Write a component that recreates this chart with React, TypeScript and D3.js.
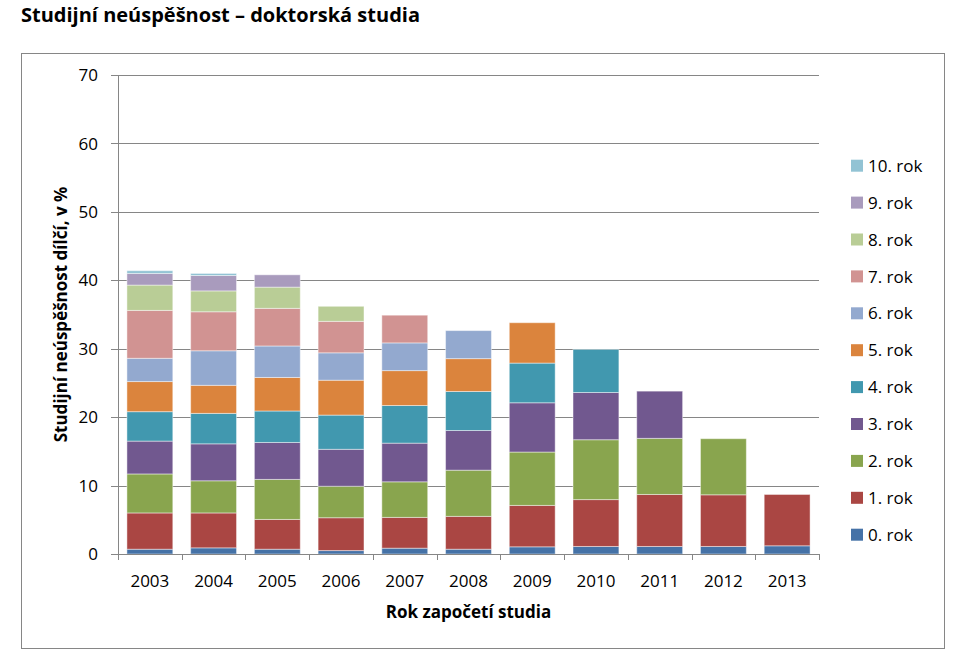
import React from "react";
import * as d3 from "d3";

const years = ["2003", "2004", "2005", "2006", "2007", "2008", "2009", "2010", "2011", "2012", "2013"];
const seriesNames = ["0. rok", "1. rok", "2. rok", "3. rok", "4. rok", "5. rok", "6. rok", "7. rok", "8. rok", "9. rok", "10. rok"];
const colors = ["#4572A7", "#AA4643", "#89A54E", "#71588F", "#4198AF", "#DB843D", "#93A9CF", "#D19392", "#B9CD96", "#A99BBD", "#92C3D4"];

const rok0 = [0.7, 0.9, 0.7, 0.5, 0.85, 0.7, 1.05, 1.1, 1.1, 1.1, 1.2];
const rok1 = [5.3, 5.1, 4.35, 4.8, 4.5, 4.8, 6.05, 6.85, 7.6, 7.55, 7.5];
const rok2 = [5.7, 4.7, 5.85, 4.6, 5.2, 6.75, 7.8, 8.75, 8.2, 8.2, 0];
const rok3 = [4.8, 5.4, 5.4, 5.4, 5.65, 5.8, 7.2, 6.9, 6.9, 0, 0];
const rok4 = [4.3, 4.45, 4.6, 5.0, 5.5, 5.7, 5.8, 6.3, 0, 0, 0];
const rok5 = [4.4, 4.1, 4.9, 5.1, 5.1, 4.8, 5.9, 0, 0, 0, 0];
const rok6 = [3.4, 5.05, 4.6, 4.0, 4.05, 4.1, 0, 0, 0, 0, 0];
const rok7 = [7.0, 5.7, 5.5, 4.6, 4.05, 0, 0, 0, 0, 0, 0];
const rok8 = [3.7, 3.05, 3.1, 2.2, 0, 0, 0, 0, 0, 0, 0];
const rok9 = [1.7, 2.25, 1.8, 0, 0, 0, 0, 0, 0, 0, 0];
const rok10 = [0.4, 0.3, 0, 0, 0, 0, 0, 0, 0, 0, 0];
const yTicks = [0, 10, 20, 30, 40, 50, 60, 70];

const allSeries = [rok0, rok1, rok2, rok3, rok4, rok5, rok6, rok7, rok8, rok9, rok10];

export default function App() {
  const W = 963, H = 659;
  const left = 118, right = 819, top = 75, bottom = 554;
  const FONT = "'Open Sans', sans-serif";

  const rows = years.map((y, i) => {
    const o: any = { year: y };
    seriesNames.forEach((s, k) => (o[s] = allSeries[k][i]));
    return o;
  });
  const stacked = d3.stack().keys(seriesNames)(rows);

  const x = d3.scaleBand().domain(years).range([left, right]).paddingInner(0.28).paddingOuter(0.14);
  const y = d3.scaleLinear().domain([0, 70]).range([bottom, top]);
  const step = (right - left) / years.length;

  const legendTop = 165.7;
  const legendStep = 36.9;

  return (
    <svg width={W} height={H} style={{ position: "absolute", left: 0, top: 0, background: "#fff" }}>
      <text x={21} y={22} fontFamily={FONT} fontWeight="bold" fontSize={20} fill="#000">
        Studijní neúspěšnost – doktorská studia
      </text>
      <rect x={21.5} y={53.5} width={923} height={595} fill="none" stroke="#868686" strokeWidth={1} />

      {yTicks.map((t) => (
        <g key={t}>
          {t > 0 && <line x1={left} x2={right} y1={Math.round(y(t)) + 0.5} y2={Math.round(y(t)) + 0.5} stroke="#868686" />}
          <line x1={111} x2={left} y1={Math.round(y(t)) + 0.5} y2={Math.round(y(t)) + 0.5} stroke="#868686" />
          <text x={98} y={y(t)} dy="0.36em" textAnchor="end" fontFamily={FONT} fontSize={17} fill="#000">
            {t}
          </text>
        </g>
      ))}

      {stacked.map((layer, k) => (
        <g key={layer.key}>
          {layer.map((d, i) =>
            d[1] - d[0] > 0 ? (
              <rect
                key={i}
                x={x(years[i])!}
                width={x.bandwidth()}
                y={y(d[1])}
                height={y(d[0]) - y(d[1])}
                fill={colors[k]}
                stroke="#ffffff"
                strokeOpacity={0.45}
                strokeWidth={1}
              />
            ) : null
          )}
        </g>
      ))}

      <line x1={left + 0.5} x2={left + 0.5} y1={top} y2={bottom} stroke="#868686" />
      <line x1={left} x2={right} y1={bottom + 0.5} y2={bottom + 0.5} stroke="#868686" />
      {d3.range(years.length + 1).map((i) => (
        <line key={i} x1={Math.round(left + i * step) + 0.5} x2={Math.round(left + i * step) + 0.5} y1={bottom} y2={bottom + 6} stroke="#868686" />
      ))}
      {years.map((yr) => (
        <text key={yr} x={x(yr)! + x.bandwidth() / 2} y={587} textAnchor="middle" fontFamily={FONT} fontSize={17} fill="#000">
          {yr}
        </text>
      ))}

      <text x={(left + right) / 2} y={618} textAnchor="middle" fontFamily={FONT} fontWeight="bold" fontSize={17} fill="#000">
        Rok započetí studia
      </text>
      <text
        transform={`translate(67, ${(top + bottom) / 2}) rotate(-90)`}
        textAnchor="middle"
        fontFamily={FONT}
        fontWeight="bold"
        fontSize={17}
        fill="#000"
      >
        Studijní neúspěšnost dílčí, v %
      </text>

      {seriesNames
        .slice()
        .reverse()
        .map((s, j) => {
          const k = seriesNames.length - 1 - j;
          const cy = legendTop + j * legendStep;
          return (
            <g key={s}>
              <rect x={851} y={cy - 6} width={12} height={12} fill={colors[k]} />
              <text x={868} y={cy} dy="0.36em" fontFamily={FONT} fontSize={17} fill="#000">
                {s}
              </text>
            </g>
          );
        })}
    </svg>
  );
}
